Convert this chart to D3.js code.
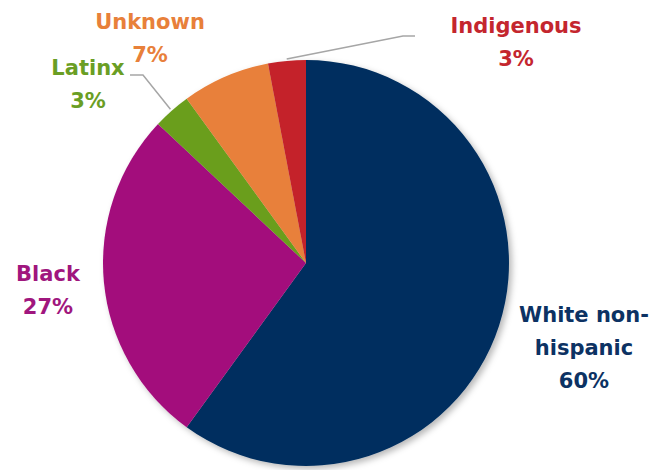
<!DOCTYPE html>
<html>
<head>
<meta charset="utf-8">
<script src="https://cdn.jsdelivr.net/npm/d3@7"></script>
<style>
  html, body { margin: 0; padding: 0; background: #fff; }
  svg text { font-family: "DejaVu Sans", sans-serif; font-weight: 700; }
</style>
</head>
<body>
<svg id="chart" width="658" height="470"></svg>
<script>
// Share of people by race / ethnicity
const categories = ["White non-hispanic", "Black", "Latinx", "Unknown", "Indigenous"];
const values = [60, 27, 3, 7, 3];
const colors = ["#062f5e", "#a3107c", "#6a9e1f", "#e8803a", "#c4242a"];
const labelColors = ["#0c3263", "#a0167e", "#6a9e24", "#e8803a", "#c4262e"];
const labelLines = [["White non-", "hispanic", "60%"], ["Black", "27%"], ["Latinx", "3%"], ["Unknown", "7%"], ["Indigenous", "3%"]];

const svg = d3.select("#chart");
const cx = 306, cy = 263, r = 203;

const defs = svg.append("defs");
const f = defs.append("filter").attr("id", "shadow")
  .attr("x", "-20%").attr("y", "-20%").attr("width", "140%").attr("height", "140%");
f.append("feDropShadow").attr("dx", 3).attr("dy", 3).attr("stdDeviation", 3)
  .attr("flood-color", "#000").attr("flood-opacity", 0.28);

const pie = d3.pie().sort(null).value(d => d)(values);
const arc = d3.arc().innerRadius(0).outerRadius(r);

const g = svg.append("g").attr("transform", `translate(${cx},${cy})`).attr("filter", "url(#shadow)");
g.selectAll("path").data(pie).join("path")
  .attr("d", arc)
  .attr("fill", (d, i) => colors[i]);

// Leader lines for the two thin slices
const leader = d3.line();
const latinxMid = (pie[2].startAngle + pie[2].endAngle) / 2;
const indMid = (pie[4].startAngle + pie[4].endAngle) / 2;
const edge = (a, rr) => [cx + rr * Math.sin(a), cy - rr * Math.cos(a)];
svg.append("path")
  .attr("d", leader([[130, 75], [143, 75], edge(latinxMid, r + 2)]))
  .attr("fill", "none").attr("stroke", "#a6a6a6").attr("stroke-width", 1.5);
svg.append("path")
  .attr("d", leader([edge(indMid, r + 2), [403, 36], [415, 36]]))
  .attr("fill", "none").attr("stroke", "#a6a6a6").attr("stroke-width", 1.5);

// Labels: [x, first baseline]
const labelPos = [[584, 322], [48, 281], [88, 75], [150, 29], [516, 33]];
const lh = 33;
labelLines.forEach((lines, i) => {
  const t = svg.append("text")
    .attr("text-anchor", "middle")
    .attr("font-size", 21)
    .attr("fill", labelColors[i]);
  lines.forEach((s, k) => {
    t.append("tspan").attr("x", labelPos[i][0]).attr("y", labelPos[i][1] + k * lh).text(s);
  });
});
</script>
</body>
</html>
